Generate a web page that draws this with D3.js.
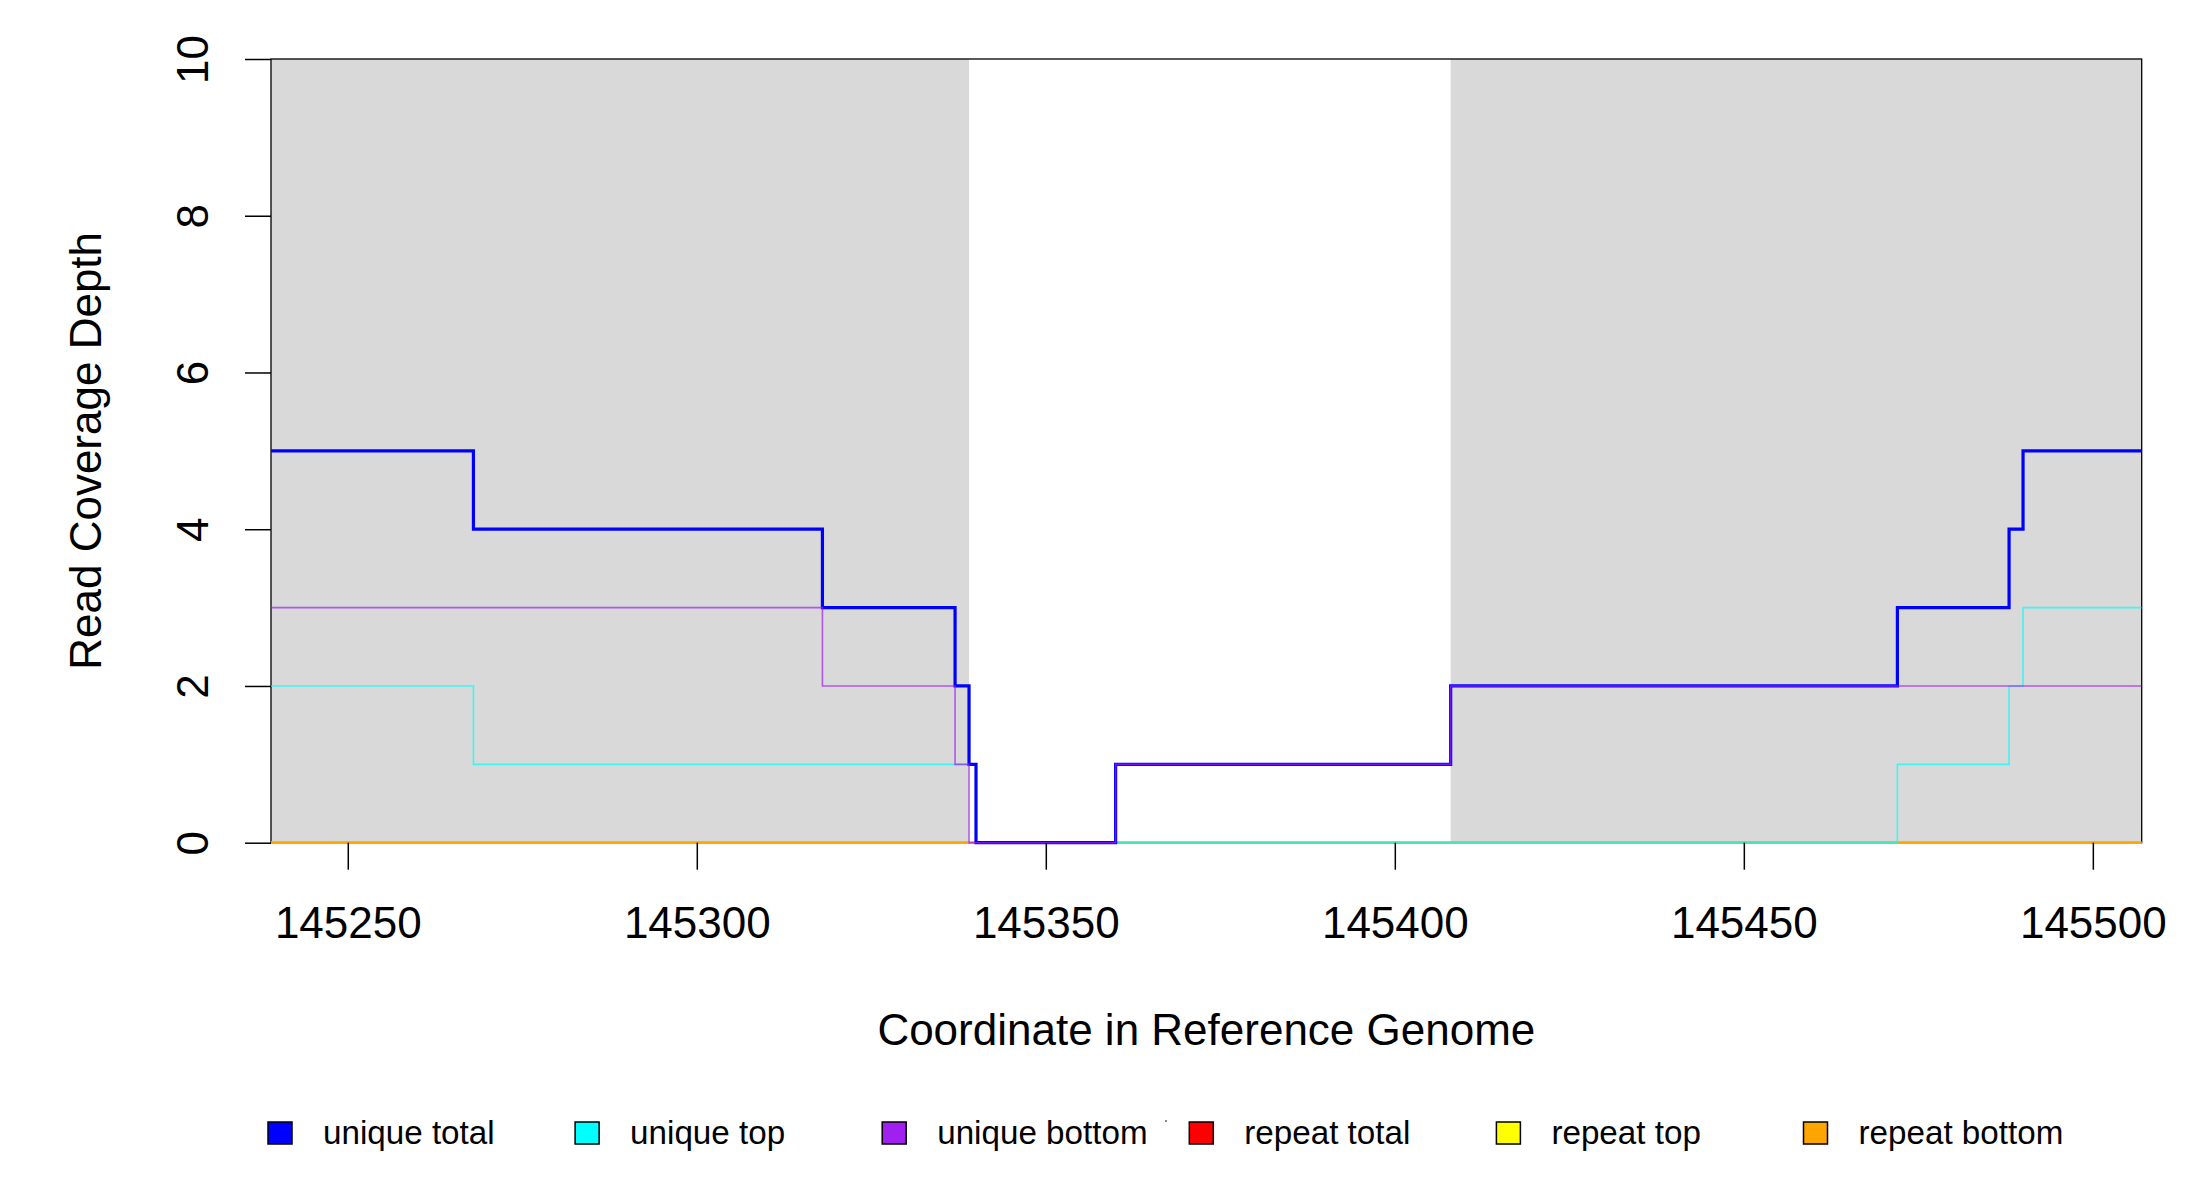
<!DOCTYPE html>
<html>
<head>
<meta charset="utf-8">
<script src="https://cdn.jsdelivr.net/npm/d3@7"></script>
<style>
  html, body { margin: 0; padding: 0; background: #ffffff; }
  svg { display: block; font-family: "Liberation Sans", Arial, Helvetica, sans-serif; }
</style>
</head>
<body>
<svg id="chart" width="2200" height="1200"></svg>
<script>
// ---------------- data ----------------
const positions     = [145239, 145268, 145318, 145337, 145339, 145340, 145360, 145408, 145472, 145488, 145490, 145507];
const uniqueTotal   = [5, 4, 3, 2, 1, 0, 1, 2, 3, 4, 5, 5];
const uniqueTop     = [2, 1, 1, 1, 1, 0, 0, 0, 1, 2, 3, 3];
const uniqueBottom  = [3, 3, 2, 1, 0, 0, 1, 2, 2, 2, 2, 2];
const repeatTotal   = [0, 0, 0, 0, 0, 0, 0, 0, 0, 0, 0, 0];
const repeatTop     = [0, 0, 0, 0, 0, 0, 0, 0, 0, 0, 0, 0];
const repeatBottom  = [0, 0, 0, 0, 0, 0, 0, 0, 0, 0, 0, 0];
const shadedStarts  = [145239, 145408];
const shadedEnds    = [145339, 145507];
const xTicks        = [145250, 145300, 145350, 145400, 145450, 145500];
const yTicks        = [0, 2, 4, 6, 8, 10];
const legendLabels  = ["unique total", "unique top", "unique bottom", "repeat total", "repeat top", "repeat bottom"];
const legendColors  = ["#0000ff", "#00ffff", "#a020f0", "#ff0000", "#ffff00", "#ffa500"];

// ---------------- layout ----------------
const svg = d3.select("#chart");
const L = 271, R = 2141.7, T = 59, B = 842.7;
const x = d3.scaleLinear().domain([145239, 145507]).range([L, R]);
const y = d3.scaleLinear().domain([0, 10]).range([B, T]);

// shaded regions
svg.append("g").selectAll("rect")
  .data(shadedStarts.map((s, i) => [s, shadedEnds[i]]))
  .join("rect")
  .attr("x", d => x(d[0]))
  .attr("y", T)
  .attr("width", d => x(d[1]) - x(d[0]))
  .attr("height", B - T)
  .attr("fill", "#d9d9d9");

// box
svg.append("rect")
  .attr("x", L).attr("y", T)
  .attr("width", R - L).attr("height", B - T)
  .attr("fill", "none")
  .attr("stroke", "#000")
  .attr("stroke-width", 1.3);

// lines (drawing order: repeats, then unique top, total, bottom)
const series = [
  { vals: repeatTotal,  color: "#ff0000", w: 2.4, op: 1 },
  { vals: repeatTop,    color: "#ffff00", w: 2.2, op: 1 },
  { vals: repeatBottom, color: "#ffa500", w: 2.0, op: 1 },
  { vals: uniqueTop,    color: "#00ffff", w: 1.6, op: 0.7 },
  { vals: uniqueTotal,  color: "#0000ff", w: 3.2, op: 1 },
  { vals: uniqueBottom, color: "#a020f0", w: 1.6, op: 0.7 }
];
const line = d3.line()
  .x(d => x(d[0]))
  .y(d => y(d[1]))
  .curve(d3.curveStepAfter);
svg.append("defs").append("clipPath").attr("id", "clip")
  .append("rect").attr("x", L).attr("y", T - 3).attr("width", R - L).attr("height", B - T + 6);
svg.append("g").attr("clip-path", "url(#clip)")
  .selectAll("path")
  .data(series)
  .join("path")
  .attr("d", s => line(positions.map((p, i) => [p, s.vals[i]])))
  .attr("fill", "none")
  .attr("stroke", s => s.color)
  .attr("stroke-width", s => s.w)
  .attr("stroke-opacity", s => s.op)
  .attr("stroke-linejoin", "miter");

// x axis
const xAxis = svg.append("g")
  .attr("transform", `translate(0,${B})`)
  .call(d3.axisBottom(x).tickValues(xTicks).tickSize(27).tickFormat(d3.format("d")));
xAxis.select(".domain").remove();
xAxis.selectAll(".tick line").attr("stroke", "#000").attr("stroke-width", 1.5);
xAxis.selectAll(".tick text")
  .attr("y", 95).attr("dy", null)
  .attr("fill", "#000")
  .attr("font-size", 44)
  .attr("font-family", "Liberation Sans, Arial, sans-serif");

// y axis
const yAxis = svg.append("g")
  .attr("transform", `translate(${L},0)`)
  .call(d3.axisLeft(y).tickValues(yTicks).tickSize(26).tickFormat(d3.format("d")));
yAxis.select(".domain").remove();
yAxis.selectAll(".tick line").attr("stroke", "#000").attr("stroke-width", 1.5);
yAxis.selectAll(".tick text")
  .attr("x", null).attr("dy", null)
  .attr("transform", "translate(-63,0) rotate(-90)")
  .attr("text-anchor", "middle")
  .attr("fill", "#000")
  .attr("font-size", 44)
  .attr("font-family", "Liberation Sans, Arial, sans-serif");

// axis titles
svg.append("text")
  .attr("x", (L + R) / 2).attr("y", 1045)
  .attr("text-anchor", "middle")
  .attr("font-size", 44)
  .text("Coordinate in Reference Genome");
svg.append("text")
  .attr("transform", `translate(101,${(T + B) / 2}) rotate(-90)`)
  .attr("text-anchor", "middle")
  .attr("font-size", 44)
  .text("Read Coverage Depth");

// legend
const lg = svg.append("g").selectAll("g")
  .data(legendLabels)
  .join("g")
  .attr("transform", (d, i) => `translate(${280 + i * 307.1},1133)`);
lg.append("rect")
  .attr("x", -12).attr("y", -11)
  .attr("width", 24).attr("height", 22)
  .attr("fill", (d, i) => legendColors[i])
  .attr("stroke", "#000")
  .attr("stroke-width", 1.5);
lg.append("text")
  .attr("x", 43).attr("y", 11)
  .attr("font-size", 33.2)
  .text(d => d);

// small stray mark seen in the reference
svg.append("rect").attr("x", 1165).attr("y", 1120).attr("width", 2).attr("height", 2).attr("fill", "#888");
</script>
</body>
</html>
